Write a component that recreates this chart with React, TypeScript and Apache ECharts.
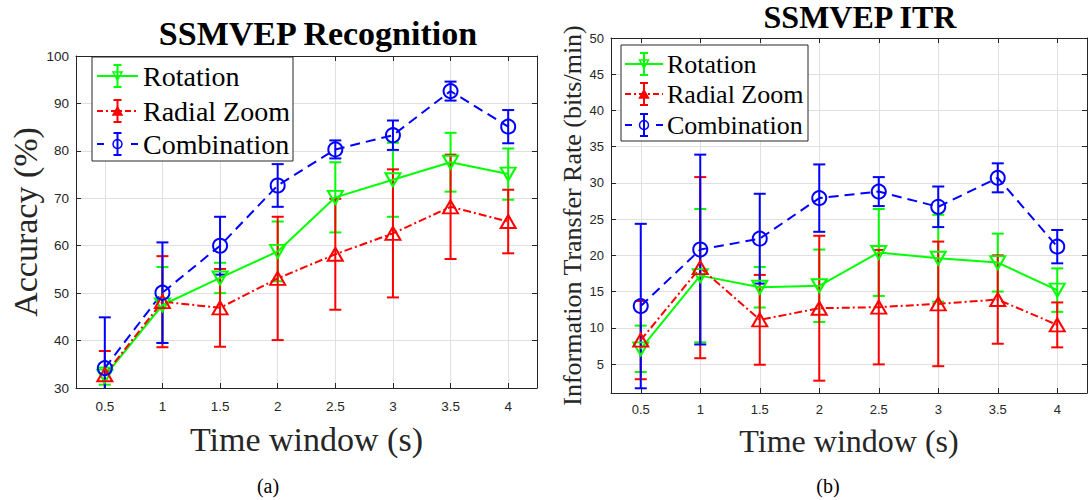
import React, { useEffect, useRef } from 'react';
import * as echarts from 'echarts';

// ---------- data ----------
const timeWindows = [0.5, 1, 1.5, 2, 2.5, 3, 3.5, 4];
const seriesNames = ['Rotation', 'Radial Zoom', 'Combination'];

// Accuracy (%) means and error half-lengths
const accRotation = [32.5, 47.5, 53.2, 58.8, 70.2, 73.9, 77.6, 75.1];
const accRotationErr = [1.8, 8.0, 3.2, 6.3, 7.4, 7.8, 6.2, 5.4];
const accRadial = [32.8, 48.2, 46.9, 53.1, 58.2, 62.6, 68.2, 65.1];
const accRadialErr = [5.0, 9.6, 8.2, 13.0, 11.7, 13.5, 11.0, 6.7];
const accCombination = [34.2, 50.1, 60.0, 72.7, 80.3, 83.3, 92.6, 85.1];
const accCombinationErr = [10.7, 10.6, 6.1, 4.5, 1.9, 3.1, 2.0, 3.5];

// ITR (bits/min) means and error half-lengths
const itrRotation = [7.1, 17.2, 15.6, 15.8, 20.4, 19.6, 19.0, 15.2];
const itrRotationErr = [3.2, 9.2, 2.8, 5.0, 6.0, 6.0, 4.0, 3.0];
const itrRadial = [8.3, 18.3, 11.1, 12.7, 12.85, 13.3, 13.9, 10.4];
const itrRadialErr = [5.4, 12.5, 6.2, 10.0, 7.9, 8.6, 6.1, 3.1];
const itrCombination = [13.0, 20.8, 22.3, 27.9, 28.8, 26.7, 30.7, 21.2];
const itrCombinationErr = [11.35, 13.1, 6.2, 4.65, 2.0, 2.8, 2.0, 2.3];

const xTickValues = [0.5, 1, 1.5, 2, 2.5, 3, 3.5, 4];
const accYTicks = [30, 40, 50, 60, 70, 80, 90, 100];
const itrYTicks = [5, 10, 15, 20, 25, 30, 35, 40, 45, 50];

// ---------- styles ----------
const COLORS = ['#00ff00', '#ff0000', '#0000ff'];
const LINE_TYPES: any[] = ['solid', [8, 3, 2, 3], [10, 6]];
const SYMBOLS = ['triangle', 'triangle', 'circle'];
const SYMBOL_ROTATE = [180, 0, 0];
const SYMBOL_SIZES: any[] = [[15, 13], [15, 13], 14];
const AXIS_COLOR = '#262626';
const GRID_COLOR = '#e0e0e0';
const SERIF = 'Liberation Serif';
const SANS = 'Liberation Sans';

function errData(m: number[], e: number[]) {
  return timeWindows.map((x, i) => [x, m[i] - e[i], m[i] + e[i]]);
}

function errSeries(xi: number, yi: number, color: string, data: number[][], capHalf: number) {
  return {
    type: 'custom',
    xAxisIndex: xi,
    yAxisIndex: yi,
    clip: true,
    silent: true,
    data,
    encode: { x: 0, y: [1, 2] },
    renderItem: (params: any, api: any) => {
      const x = api.value(0);
      const lo = api.coord([x, api.value(1)]);
      const hi = api.coord([x, api.value(2)]);
      const st = { stroke: color, lineWidth: 2 };
      return {
        type: 'group',
        children: [
          { type: 'line', shape: { x1: hi[0], y1: hi[1], x2: lo[0], y2: lo[1] }, style: st },
          { type: 'line', shape: { x1: hi[0] - capHalf, y1: hi[1], x2: hi[0] + capHalf, y2: hi[1] }, style: st },
          { type: 'line', shape: { x1: lo[0] - capHalf, y1: lo[1], x2: lo[0] + capHalf, y2: lo[1] }, style: st },
        ],
      };
    },
  };
}

function lineSeries(xi: number, yi: number, idx: number, values: number[]) {
  return {
    type: 'line',
    name: seriesNames[idx],
    xAxisIndex: xi,
    yAxisIndex: yi,
    data: timeWindows.map((x, i) => [x, values[i]]),
    symbol: SYMBOLS[idx],
    symbolRotate: SYMBOL_ROTATE[idx],
    symbolSize: SYMBOL_SIZES[idx],
    showSymbol: true,
    lineStyle: { color: COLORS[idx], width: 2, type: LINE_TYPES[idx] },
    itemStyle: { color: 'rgba(255,255,255,0)', borderColor: COLORS[idx], borderWidth: 2 },
    emphasis: { disabled: true },
  };
}

function xAxes(gridIndex: number, labelSize: number, labelMargin: number, nameGap: number, nameSize: number) {
  return [
    {
      type: 'value',
      gridIndex,
      min: 0.25,
      max: 4.25,
      name: 'Time window (s)',
      nameLocation: 'middle',
      nameGap,
      nameTextStyle: { fontFamily: SERIF, fontSize: nameSize, color: AXIS_COLOR },
      axisLine: { show: true, lineStyle: { color: AXIS_COLOR, width: 1 } },
      axisTick: { show: true, inside: true, length: 5, customValues: xTickValues, lineStyle: { color: AXIS_COLOR } },
      axisLabel: {
        show: true,
        customValues: xTickValues,
        fontFamily: SANS,
        fontSize: labelSize,
        color: AXIS_COLOR,
        margin: labelMargin,
        formatter: (v: number) => String(v),
      },
      splitLine: { show: true, lineStyle: { color: GRID_COLOR, width: 1 } },
    },
    {
      type: 'value',
      gridIndex,
      position: 'top',
      min: 0.25,
      max: 4.25,
      axisLine: { show: true, lineStyle: { color: AXIS_COLOR, width: 1 } },
      axisTick: { show: true, inside: true, length: 5, customValues: xTickValues, lineStyle: { color: AXIS_COLOR } },
      axisLabel: { show: false },
      splitLine: { show: false },
    },
  ];
}

function yAxes(
  gridIndex: number,
  min: number,
  max: number,
  ticks: number[],
  name: string,
  nameGap: number,
  nameSize: number,
  labelSize: number,
  labelMargin: number
) {
  return [
    {
      type: 'value',
      gridIndex,
      min,
      max,
      name,
      nameLocation: 'middle',
      nameGap,
      nameRotate: 90,
      nameTextStyle: { fontFamily: SERIF, fontSize: nameSize, color: AXIS_COLOR },
      axisLine: { show: true, lineStyle: { color: AXIS_COLOR, width: 1 } },
      axisTick: { show: true, inside: true, length: 5, customValues: ticks, lineStyle: { color: AXIS_COLOR } },
      axisLabel: {
        show: true,
        customValues: ticks,
        fontFamily: SANS,
        fontSize: labelSize,
        color: AXIS_COLOR,
        margin: labelMargin,
      },
      splitLine: { show: true, lineStyle: { color: GRID_COLOR, width: 1 } },
    },
    {
      type: 'value',
      gridIndex,
      position: 'right',
      min,
      max,
      axisLine: { show: true, lineStyle: { color: AXIS_COLOR, width: 1 } },
      axisTick: { show: true, inside: true, length: 5, customValues: ticks, lineStyle: { color: AXIS_COLOR } },
      axisLabel: { show: false },
      splitLine: { show: false },
    },
  ];
}

function legendGraphics(cfg: any) {
  const { boxX, boxY, boxW, boxH, rows, lineX1, lineX2, textX, errHalf, fontSize } = cfg;
  const markX = (lineX1 + lineX2) / 2;
  const els: any[] = [
    {
      type: 'rect',
      z: 100,
      shape: { x: boxX, y: boxY, width: boxW, height: boxH },
      style: { fill: '#ffffff', stroke: AXIS_COLOR, lineWidth: 1 },
    },
  ];
  seriesNames.forEach((name, i) => {
    const y = rows[i];
    const c = COLORS[i];
    const st = { stroke: c, lineWidth: 2 };
    if (i === 0) {
      els.push({ type: 'line', z: 101, shape: { x1: lineX1, y1: y, x2: lineX2, y2: y }, style: st });
    } else if (i === 1) {
      els.push({ type: 'line', z: 101, shape: { x1: lineX1, y1: y, x2: lineX2, y2: y }, style: { ...st, lineDash: [6, 3, 2, 3] } });
    } else {
      els.push({ type: 'line', z: 101, shape: { x1: lineX1, y1: y, x2: lineX1 + 7, y2: y }, style: st });
      els.push({ type: 'line', z: 101, shape: { x1: lineX2 - 7, y1: y, x2: lineX2, y2: y }, style: st });
    }
    els.push({ type: 'line', z: 101, shape: { x1: markX, y1: y - errHalf, x2: markX, y2: y + errHalf }, style: st });
    els.push({ type: 'line', z: 101, shape: { x1: markX - 4, y1: y - errHalf, x2: markX + 4, y2: y - errHalf }, style: st });
    els.push({ type: 'line', z: 101, shape: { x1: markX - 4, y1: y + errHalf, x2: markX + 4, y2: y + errHalf }, style: st });
    if (i === 0) {
      els.push({ type: 'polygon', z: 102, shape: { points: [[markX - 4.5, y - 4], [markX + 4.5, y - 4], [markX, y + 4]] }, style: { fill: 'none', stroke: c, lineWidth: 1.5 } });
    } else if (i === 1) {
      els.push({ type: 'polygon', z: 102, shape: { points: [[markX - 4.5, y + 4], [markX + 4.5, y + 4], [markX, y - 4]] }, style: { fill: c, stroke: c, lineWidth: 1.5 } });
    } else {
      els.push({ type: 'circle', z: 102, shape: { cx: markX, cy: y, r: 4.5 }, style: { fill: 'none', stroke: c, lineWidth: 1.5 } });
    }
    els.push({
      type: 'text',
      z: 102,
      x: textX,
      y,
      style: { text: name, fontFamily: SERIF, fontSize, fill: '#000000', align: 'left', verticalAlign: 'middle' },
    });
  });
  return els;
}

export default function App() {
  const ref = useRef<HTMLDivElement>(null);

  useEffect(() => {
    if (!ref.current) return;
    const chart = echarts.init(ref.current, undefined, { renderer: 'svg' });

    const option: any = {
      animation: false,
      backgroundColor: '#ffffff',
      grid: [
        { left: 76, top: 56, width: 461, height: 332, containLabel: false },
        { left: 611, top: 38, width: 476, height: 355, containLabel: false },
      ],
      xAxis: [...xAxes(0, 13.5, 11, 34, 34), ...xAxes(1, 13, 10, 32, 32)],
      yAxis: [
        ...yAxes(0, 30, 100, accYTicks, 'Accuracy (%)', 27, 34, 13.5, 7),
        ...yAxes(1, 1, 50, itrYTicks, 'Information Transfer Rate (bits/min)', 23, 26, 13, 7),
      ],
      series: [
        errSeries(0, 0, COLORS[0], errData(accRotation, accRotationErr), 6),
        lineSeries(0, 0, 0, accRotation),
        errSeries(0, 0, COLORS[1], errData(accRadial, accRadialErr), 6),
        lineSeries(0, 0, 1, accRadial),
        errSeries(0, 0, COLORS[2], errData(accCombination, accCombinationErr), 6),
        lineSeries(0, 0, 2, accCombination),
        errSeries(2, 2, COLORS[0], errData(itrRotation, itrRotationErr), 6),
        lineSeries(2, 2, 0, itrRotation),
        errSeries(2, 2, COLORS[1], errData(itrRadial, itrRadialErr), 6),
        lineSeries(2, 2, 1, itrRadial),
        errSeries(2, 2, COLORS[2], errData(itrCombination, itrCombinationErr), 6),
        lineSeries(2, 2, 2, itrCombination),
      ],
      graphic: [
        {
          type: 'text',
          x: 318,
          y: 33,
          style: { text: 'SSMVEP Recognition', fontFamily: SERIF, fontWeight: 'bold', fontSize: 34, fill: '#000000', align: 'center', verticalAlign: 'middle' },
        },
        {
          type: 'text',
          x: 860,
          y: 17,
          style: { text: 'SSMVEP ITR', fontFamily: SERIF, fontWeight: 'bold', fontSize: 32, fill: '#000000', align: 'center', verticalAlign: 'middle' },
        },
        {
          type: 'text',
          x: 268,
          y: 486,
          style: { text: '(a)', fontFamily: SERIF, fontSize: 20, fill: '#000000', align: 'center', verticalAlign: 'middle' },
        },
        {
          type: 'text',
          x: 828,
          y: 486,
          style: { text: '(b)', fontFamily: SERIF, fontSize: 20, fill: '#000000', align: 'center', verticalAlign: 'middle' },
        },
        ...legendGraphics({
          boxX: 92, boxY: 57, boxW: 201, boxH: 104,
          rows: [76, 111, 144], lineX1: 97, lineX2: 138, textX: 143, errHalf: 11, fontSize: 28,
        }),
        ...legendGraphics({
          boxX: 621, boxY: 45, boxW: 187, boxH: 96,
          rows: [64, 94, 125], lineX1: 625, lineX2: 663, textX: 667, errHalf: 11, fontSize: 26,
        }),
      ],
    };

    chart.setOption(option);
    return () => chart.dispose();
  }, []);

  return (
    <div
      ref={ref}
      style={{ position: 'absolute', left: 0, top: 0, width: 1088, height: 500, background: '#fff' }}
    />
  );
}
